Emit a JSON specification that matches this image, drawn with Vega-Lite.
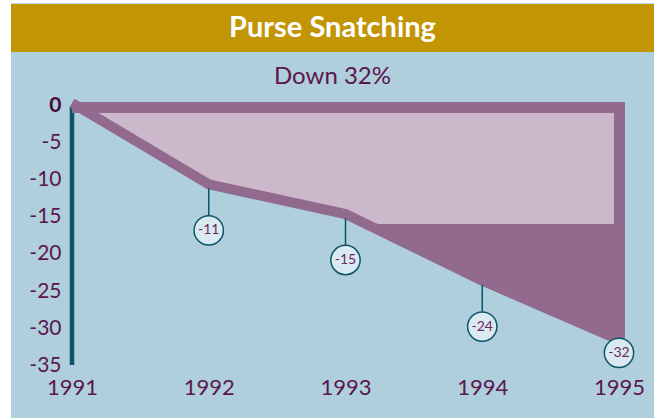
{
  "$schema": "https://vega.github.io/schema/vega-lite/v6.json",
  "width": 661,
  "height": 418,
  "autosize": {"type": "none"},
  "padding": 0,
  "background": "white",
  "config": {"view": {"fill": "white", "stroke": null}},
  "datasets": {
    "series": [
      {"year": 1991, "value": 0},
      {"year": 1992, "value": -11},
      {"year": 1993, "value": -15},
      {"year": 1994, "value": -24},
      {"year": 1995, "value": -32}
    ],
    "inset": [
      {"year": 1991, "lo": 0, "hi": -0.95},
      {"year": 1992, "lo": -11, "hi": -0.95},
      {"year": 1993, "lo": -15, "hi": -0.95},
      {"year": 1993.24, "lo": -15.95, "hi": -0.95},
      {"year": 1994.963, "lo": -15.95, "hi": -0.95}
    ],
    "one": [{}]
  },
  "layer": [
    {
      "data": {"name": "one"},
      "mark": {"type": "rect", "color": "#afcfdc"},
      "encoding": {
        "x": {"datum": 1990.554, "type": "quantitative", "scale": {"domain": [1990.4735, 1995.3071], "nice": false, "zero": false}},
        "x2": {"datum": 1995.256},
        "y": {"datum": 13.9, "type": "quantitative", "scale": {"domain": [-42.162, 14.324], "nice": false, "zero": false}},
        "y2": {"datum": -42.162}
      }
    },
    {
      "data": {"name": "one"},
      "mark": {"type": "rect", "color": "#c29505"},
      "encoding": {
        "x": {"datum": 1990.554, "type": "quantitative", "scale": {"domain": [1990.4735, 1995.3071], "nice": false, "zero": false}},
        "x2": {"datum": 1995.256},
        "y": {"datum": 7.3, "type": "quantitative", "scale": {"domain": [-42.162, 14.324], "nice": false, "zero": false}},
        "y2": {"datum": 13.78}
      }
    },
    {
      "data": {"name": "one"},
      "mark": {"type": "text", "text": "Purse Snatching", "font": "Lato", "fontSize": 29, "fontWeight": "bold", "color": "white", "baseline": "middle", "align": "center"},
      "encoding": {
        "x": {"datum": 1992.905, "type": "quantitative", "scale": {"domain": [1990.4735, 1995.3071], "nice": false, "zero": false}},
        "y": {"datum": 10.54, "type": "quantitative", "scale": {"domain": [-42.162, 14.324], "nice": false, "zero": false}}
      }
    },
    {
      "data": {"name": "series"},
      "mark": {"type": "area", "color": "#926a8e", "yOffset": -3},
      "encoding": {
        "x": {"field": "year", "type": "quantitative", "title": null,
          "scale": {"domain": [1990.4735, 1995.3071], "nice": false, "zero": false},
          "axis": {"values": [1991, 1992, 1993, 1994, 1995], "format": "d", "orient": "bottom", "offset": -43, "zindex": 2, "domain": false, "ticks": false, "grid": false, "labelPadding": 2, "labelFontSize": 22, "labelFont": "Lato", "labelColor": "#5b1650", "labelBaseline": "top", "labelOverlap": false, "labelFlush": false}},
        "y": {"field": "value", "type": "quantitative", "title": null,
          "scale": {"domain": [-42.162, 14.324], "nice": false, "zero": false},
          "axis": {"values": [0, -5, -10, -15, -20, -25, -30, -35], "labelExpr": "'' + datum.value", "orient": "left", "offset": -63, "zindex": 2, "domain": false, "ticks": false, "grid": false, "labelPadding": 2, "labelFontSize": 21, "labelFont": "Lato", "labelColor": {"condition": {"test": "datum.value == 0", "value": "#4a0a40"}, "value": "#5b1650"}, "labelFontWeight": {"condition": {"test": "datum.value == 0", "value": "bold"}, "value": "normal"}, "labelBaseline": "middle", "labelOverlap": false}},
        "y2": {"datum": 0}
      }
    },
    {
      "data": {"name": "inset"},
      "mark": {"type": "area", "color": "#cbb8cb"},
      "encoding": {
        "x": {"field": "year", "type": "quantitative", "title": null, "scale": {"domain": [1990.4735, 1995.3071], "nice": false, "zero": false}},
        "y": {"field": "lo", "type": "quantitative", "title": null, "scale": {"domain": [-42.162, 14.324], "nice": false, "zero": false}},
        "y2": {"field": "hi"}
      }
    },
    {
      "data": {"name": "one"},
      "mark": {"type": "rule", "color": "#0a5569", "strokeWidth": 4.5},
      "encoding": {
        "x": {"datum": 1991, "type": "quantitative", "scale": {"domain": [1990.4735, 1995.3071], "nice": false, "zero": false}},
        "y": {"datum": 0, "type": "quantitative", "scale": {"domain": [-42.162, 14.324], "nice": false, "zero": false}},
        "y2": {"datum": -35}
      }
    },
    {
      "data": {"name": "series"},
      "mark": {"type": "line", "color": "#926a8e", "strokeWidth": 10, "yOffset": -3, "strokeCap": "butt"},
      "encoding": {
        "x": {"field": "year", "type": "quantitative", "title": null, "scale": {"domain": [1990.4735, 1995.3071], "nice": false, "zero": false}},
        "y": {"field": "value", "type": "quantitative", "title": null, "scale": {"domain": [-42.162, 14.324], "nice": false, "zero": false}}
      }
    },
    {
      "data": {"name": "one"},
      "mark": {"type": "rule", "color": "#926a8e", "strokeWidth": 11, "yOffset": 1.5, "x2Offset": 6},
      "encoding": {
        "x": {"datum": 1991, "type": "quantitative", "scale": {"domain": [1990.4735, 1995.3071], "nice": false, "zero": false}},
        "x2": {"datum": 1995},
        "y": {"datum": 0, "type": "quantitative", "scale": {"domain": [-42.162, 14.324], "nice": false, "zero": false}}
      }
    },
    {
      "data": {"name": "one"},
      "mark": {"type": "rule", "color": "#926a8e", "strokeWidth": 11, "xOffset": 0.5, "yOffset": -4, "y2Offset": -4},
      "encoding": {
        "x": {"datum": 1995, "type": "quantitative", "scale": {"domain": [1990.4735, 1995.3071], "nice": false, "zero": false}},
        "y": {"datum": 0, "type": "quantitative", "scale": {"domain": [-42.162, 14.324], "nice": false, "zero": false}},
        "y2": {"datum": -32}
      }
    },
    {
      "data": {"name": "series"},
      "transform": [{"filter": "datum.year > 1991 && datum.year < 1995"}],
      "mark": {"type": "rule", "color": "#0a5569", "strokeWidth": 1.5, "yOffset": 1, "y2Offset": 28},
      "encoding": {
        "x": {"field": "year", "type": "quantitative", "title": null, "scale": {"domain": [1990.4735, 1995.3071], "nice": false, "zero": false}},
        "y": {"field": "value", "type": "quantitative", "title": null, "scale": {"domain": [-42.162, 14.324], "nice": false, "zero": false}},
        "y2": {"field": "value"}
      }
    },
    {
      "data": {"name": "series"},
      "transform": [{"filter": "datum.year > 1991 && datum.year < 1995"}],
      "layer": [
        {"mark": {"type": "point", "shape": "circle", "size": 860, "filled": true, "fill": "#d9eaf0", "stroke": "#0a5569", "strokeWidth": 1.5, "opacity": 1, "yOffset": 43}},
        {"mark": {"type": "text", "font": "Lato", "fontSize": 14, "color": "#6b2a60", "baseline": "middle", "align": "center", "yOffset": 43}, "encoding": {"text": {"field": "value"}}}
      ],
      "encoding": {
        "x": {"field": "year", "type": "quantitative", "title": null, "scale": {"domain": [1990.4735, 1995.3071], "nice": false, "zero": false}},
        "y": {"field": "value", "type": "quantitative", "title": null, "scale": {"domain": [-42.162, 14.324], "nice": false, "zero": false}}
      }
    },
    {
      "data": {"name": "series"},
      "transform": [{"filter": "datum.year == 1995"}],
      "layer": [
        {"mark": {"type": "point", "shape": "circle", "size": 860, "filled": true, "fill": "#d9eaf0", "stroke": "#0a5569", "strokeWidth": 1.5, "opacity": 1, "yOffset": 10}},
        {"mark": {"type": "text", "font": "Lato", "fontSize": 14, "color": "#6b2a60", "baseline": "middle", "align": "center", "yOffset": 10}, "encoding": {"text": {"field": "value"}}}
      ],
      "encoding": {
        "x": {"field": "year", "type": "quantitative", "title": null, "scale": {"domain": [1990.4735, 1995.3071], "nice": false, "zero": false}},
        "y": {"field": "value", "type": "quantitative", "title": null, "scale": {"domain": [-42.162, 14.324], "nice": false, "zero": false}}
      }
    },
    {
      "data": {"name": "one"},
      "mark": {"type": "text", "text": "Down 32%", "font": "Lato", "fontSize": 24, "color": "#5b1650", "baseline": "middle", "align": "center"},
      "encoding": {
        "x": {"datum": 1992.905, "type": "quantitative", "scale": {"domain": [1990.4735, 1995.3071], "nice": false, "zero": false}},
        "y": {"datum": 3.92, "type": "quantitative", "scale": {"domain": [-42.162, 14.324], "nice": false, "zero": false}}
      }
    }
  ]
}
